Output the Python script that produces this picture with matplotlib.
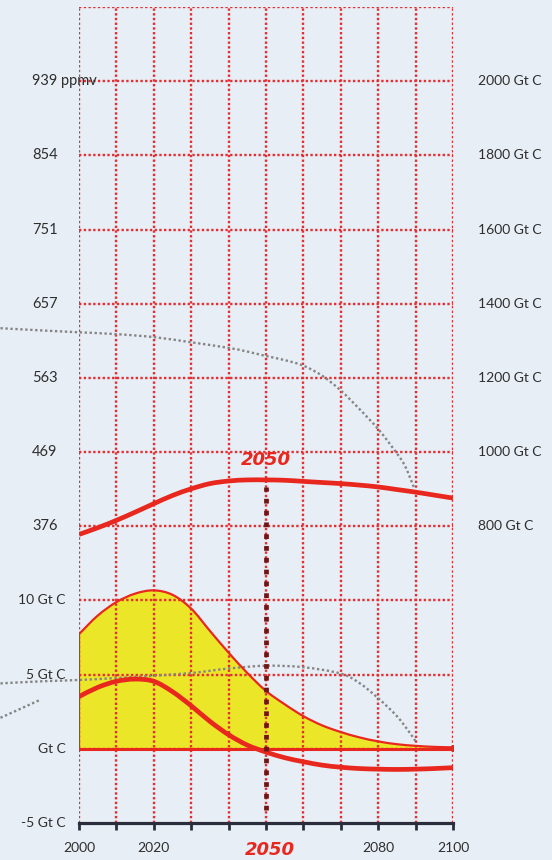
import numpy as np
import matplotlib
matplotlib.use("Agg")
import matplotlib.pyplot as plt
from matplotlib.path import Path
from matplotlib.patches import PathPatch
from matplotlib import transforms

# ---------------- data ----------------
# cumulative carbon / concentration curve (Gt C)
conc_years = [2000, 2005, 2010, 2015, 2020, 2025, 2030, 2035, 2040, 2045, 2050,
              2055, 2060, 2065, 2070, 2075, 2080, 2085, 2090, 2095, 2100]
conc_gtc = [778, 796, 816, 838, 861, 883, 901, 915, 922, 925, 925,
            924, 921, 918, 915, 911, 906, 899, 892, 884, 876]

# emissions (Gt C / yr)
em_years = [2000, 2005, 2010, 2015, 2020, 2025, 2030, 2035, 2040, 2045, 2050,
            2055, 2060, 2065, 2070, 2075, 2080, 2085, 2090, 2095, 2100]
gross_em = [7.73, 8.98, 9.89, 10.46, 10.68, 10.38, 9.45, 7.95, 6.48, 5.11, 3.9,
            3.0, 2.2, 1.58, 1.13, 0.77, 0.5, 0.31, 0.2, 0.13, 0.1]
net_em = [3.52, 4.14, 4.55, 4.7, 4.55, 3.85, 2.9, 1.85, 0.95, 0.25, -0.22,
          -0.6, -0.87, -1.1, -1.24, -1.33, -1.37, -1.39, -1.37, -1.33, -1.27]

# grey dotted reference curves
grey_hi_years = [1979, 1990, 2000, 2010, 2020, 2030, 2040, 2045, 2050, 2055, 2060, 2065, 2070,
                 2075, 2080, 2084, 2087, 2089.5]
grey_hi_gtc = [1334, 1328, 1323, 1318, 1310, 1296, 1281, 1271, 1259, 1248, 1233, 1206, 1166,
               1116, 1062, 1010, 966, 906]
grey_lo_years = [1979, 1990, 2000, 2010, 2020, 2030, 2040, 2050, 2060, 2070, 2075,
                 2080, 2085, 2088.5, 2090]
grey_lo_em = [4.41, 4.55, 4.64, 4.77, 4.93, 5.11, 5.41, 5.6, 5.5, 5.07, 4.43,
              3.41, 2.2, 1.06, 0.5]
grey_seg_years = [1979, 1989.6]
grey_seg_em = [2.09, 3.3]

# labels
ppmv_labels = ["376", "469", "563", "657", "751", "854", "939 ppmv"]
gtc_ticks = [800, 1000, 1200, 1400, 1600, 1800, 2000]
gtc_labels = ["800 Gt C", "1000 Gt C", "1200 Gt C", "1400 Gt C",
              "1600 Gt C", "1800 Gt C", "2000 Gt C"]
em_ticks = [-5, 0, 5, 10]
em_labels = ["-5 Gt C", "Gt C", "5 Gt C", "10 Gt C"]
x_ticks = list(range(2000, 2101, 10))
x_labels = ["2000", "", "2020", "", "", "", "", "", "2080", "", "2100"]
mark_year = 2050
mark_label = "2050"

# ---------------- style ----------------
BG = "#e8eef5"
RED = "#e8281e"
GRID = "#e62e32"
YEL = "#ece628"
GREY = "#858585"
DARK = "#2b2d3c"
TXT = "#2e2e2e"
FONT = "Lato"


def smooth_verts(xs, ys):
    """Catmull-Rom through the given points, as cubic Bezier path data."""
    p = np.column_stack([xs, ys]).astype(float)
    ext = np.vstack([p[0], p, p[-1]])
    verts = [tuple(p[0])]
    codes = [Path.MOVETO]
    for i in range(len(p) - 1):
        p0, p1, p2, p3 = ext[i], ext[i + 1], ext[i + 2], ext[i + 3]
        c1 = p1 + (p2 - p0) / 6.0
        c2 = p2 - (p3 - p1) / 6.0
        verts += [tuple(c1), tuple(c2), tuple(p2)]
        codes += [Path.CURVE4] * 3
    return verts, codes


def smooth_line(a, xs, ys, **kw):
    v, c = smooth_verts(xs, ys)
    patch = PathPatch(Path(v, c), fill=False, transform=a.transData, **kw)
    a.add_patch(patch)
    return patch


fig = plt.figure(figsize=(5.52, 8.60), dpi=100, facecolor=BG)
ax = fig.add_axes([79 / 552, 1 - 823 / 860, 374 / 552, 816 / 860])
ax.set_facecolor(BG)
ax.set_xlim(2000, 2100)
ax.set_ylim(-5, 50)

ax2 = ax.twinx()
ax2.set_ylim(0, 2200)
ax2.patch.set_visible(False)

for a in (ax, ax2):
    for s in a.spines.values():
        s.set_visible(False)

# grid
dot = (0, (1, 1.0))
ax.vlines(x_ticks, -5, 50, colors=GRID, linestyles=dot, linewidth=1.7, zorder=1.5)
ax.hlines(np.arange(0, 51, 5), 2000, 2100, colors=GRID, linestyles=dot, linewidth=1.7, zorder=1.5)

# bottom axis
ax.spines["bottom"].set_visible(True)
ax.spines["bottom"].set_color(DARK)
ax.spines["bottom"].set_linewidth(2.3)
ax.spines["bottom"].set_zorder(5)
ax.set_xticks(x_ticks)
ax.set_xticklabels(x_labels, fontsize=10, fontfamily=FONT, color=TXT)
ax.tick_params(axis="x", direction="out", length=5, width=2, color=DARK, pad=9)
ax.set_yticks([])
ax2.set_yticks([])

# yellow gross emissions area
v, c = smooth_verts(em_years, gross_em)
v = v + [(em_years[-1], 0), (em_years[0], 0), (em_years[0], gross_em[0])]
c = c + [Path.LINETO, Path.LINETO, Path.CLOSEPOLY]
ax.add_patch(PathPatch(Path(v, c), facecolor=YEL, edgecolor="none",
                       transform=ax.transData, zorder=1))
smooth_line(ax, em_years, gross_em, edgecolor=RED, linewidth=1.6, zorder=3)
ax.vlines(em_years[0], 0, gross_em[0], colors=RED, linewidth=1.6, zorder=3)
ax.hlines(0, em_years[0], em_years[-1], colors=RED, linewidth=2.2, zorder=3)
ax.plot([em_years[-1]], [gross_em[-1] / 2], marker="o", markersize=5,
        color=RED, markeredgewidth=0, zorder=3)

# grey dotted curves
gdot = (0, (1, 1.1))
smooth_line(ax2, grey_hi_years, grey_hi_gtc, edgecolor=GREY, linestyle=gdot,
            linewidth=1.7, clip_on=False, zorder=2)
smooth_line(ax, grey_lo_years, grey_lo_em, edgecolor=GREY, linestyle=gdot,
            linewidth=1.7, clip_on=False, zorder=2)
ax.plot(grey_seg_years, grey_seg_em, color=GREY, linestyle=gdot, linewidth=1.7,
        clip_on=False, zorder=2)

# net emissions
smooth_line(ax, em_years, net_em, edgecolor=RED, linewidth=3.4, capstyle="butt", zorder=4)

# concentration
smooth_line(ax2, conc_years, conc_gtc, edgecolor=RED, linewidth=3.4, capstyle="butt", zorder=4)

# 2050 marker line
peak = np.interp(mark_year, conc_years, conc_gtc)
ax2.vlines(mark_year, 34, peak - 18, colors="#6e1515", linewidth=3.4,
           linestyles=(0, (1, 1.5)), zorder=4.5)

ax2.text(mark_year, peak + 53, mark_label, color=RED, fontsize=13,
         fontweight="bold", fontstyle="italic", ha="center", va="center",
         fontfamily="DejaVu Sans", zorder=6)
ax.text(mark_year + 1, -5, mark_label, color=RED, fontsize=13,
        fontweight="bold", fontstyle="italic", ha="center", va="center",
        fontfamily="DejaVu Sans",
        transform=ax.transData + transforms.ScaledTranslation(0, -27 / 100, fig.dpi_scale_trans),
        clip_on=False)

# left / right labels
yt2 = ax2.get_yaxis_transform()
for v_, lab in zip(gtc_ticks, ppmv_labels):
    ax2.text((32 - 79) / 374, v_, lab, transform=yt2, ha="left", va="center",
             fontsize=10.5, fontfamily=FONT, color=TXT, clip_on=False)
for v_, lab in zip(gtc_ticks, gtc_labels):
    ax2.text((478 - 79) / 374, v_, lab, transform=yt2, ha="left", va="center",
             fontsize=10, fontfamily=FONT, color=TXT, clip_on=False)
yt = ax.get_yaxis_transform()
for v_, lab in zip(em_ticks, em_labels):
    ax.text((66 - 79) / 374, v_, lab, transform=yt, ha="right", va="center",
            fontsize=10, fontfamily=FONT, color=TXT, clip_on=False)

fig.savefig("out.png", dpi=100, facecolor=BG)
